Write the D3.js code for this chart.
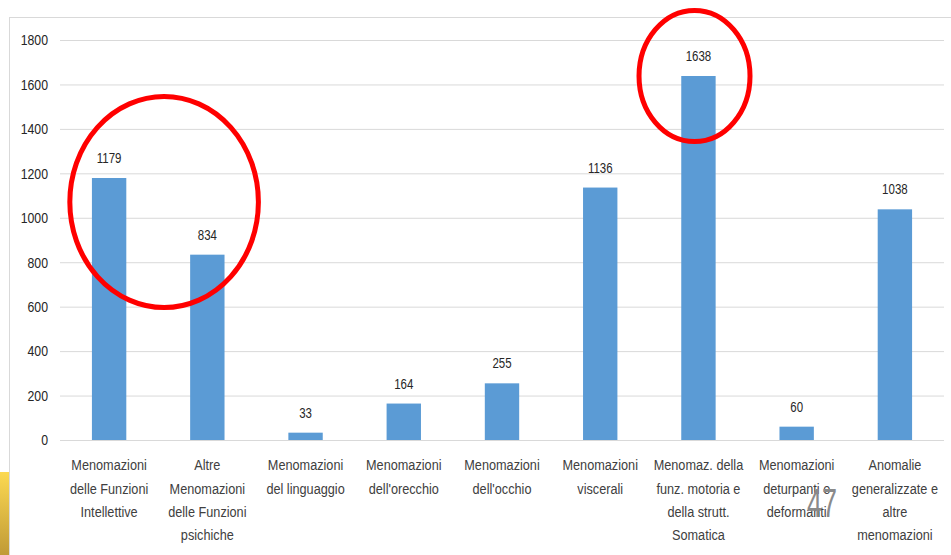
<!DOCTYPE html>
<html>
<head>
<meta charset="utf-8">
<script src="https://cdn.jsdelivr.net/npm/d3@7"></script>
<style>
  html, body { margin: 0; padding: 0; background: #ffffff; }
  svg { display: block; }
  text { font-family: "Liberation Sans", Arial, sans-serif; }
</style>
</head>
<body>
<svg id="chart" width="951" height="555"></svg>
<script>
// Category labels, one entry per line of the wrapped label
const categories = [
  ["Menomazioni", "delle Funzioni", "Intellettive"],
  ["Altre", "Menomazioni", "delle Funzioni", "psichiche"],
  ["Menomazioni", "del linguaggio"],
  ["Menomazioni", "dell'orecchio"],
  ["Menomazioni", "dell'occhio"],
  ["Menomazioni", "viscerali"],
  ["Menomaz. della", "funz. motoria e", "della strutt.", "Somatica"],
  ["Menomazioni", "deturpanti e", "deformanti"],
  ["Anomalie", "generalizzate e", "altre", "menomazioni"]
];
const values = [1179, 834, 33, 164, 255, 1136, 1638, 60, 1038];
const yTicks = [0, 200, 400, 600, 800, 1000, 1200, 1400, 1600, 1800];

// Highlight rings: centred on a category position and a value, sized in data units
const highlights = [
  { from: 0, to: 1, shift: 0.06, value: 1071, span: 475, halfWidth: 0.96 },
  { from: 6, to: 6, shift: -0.04, value: 1638, span: 295, halfWidth: 0.565 }
];

// Horizontal squeeze that gives Liberation Sans a narrow, condensed look
const NARROW = 0.82;

const svg = d3.select("#chart");
const W = 951, H = 555;
const m = { left: 60, right: 7, top: 40, bottom: 115 };

const keys = categories.map((c, i) => "c" + i);
const x = d3.scaleBand().domain(keys).range([m.left, W - m.right]).paddingInner(0.65).paddingOuter(0.325);
const y = d3.scaleLinear().domain([0, 1800]).range([H - m.bottom, m.top]);
const step = x.step();

// Corner accent
const grad = svg.append("defs").append("linearGradient")
  .attr("id", "gold").attr("x1", 0).attr("y1", 0).attr("x2", 0).attr("y2", 1);
grad.append("stop").attr("offset", "0%").attr("stop-color", "#fcd951");
grad.append("stop").attr("offset", "100%").attr("stop-color", "#c09a36");
svg.append("rect").attr("x", 0).attr("y", 472).attr("width", 9).attr("height", H - 472)
  .attr("fill", "url(#gold)");

// Chart frame
svg.append("rect").attr("x", 9.5).attr("y", 17.5).attr("width", W + 10).attr("height", H + 10)
  .attr("fill", "none").attr("stroke", "#d9d9d9").attr("stroke-width", 1);

// Gridlines and value axis
const yAxis = d3.axisLeft(y).tickValues(yTicks).tickFormat(d3.format("d"))
  .tickSize(-(W - m.left - m.right)).tickPadding(12);
const gy = svg.append("g").attr("transform", `translate(${m.left},0)`).call(yAxis);
gy.select(".domain").remove();
gy.selectAll(".tick line").attr("stroke", "#d9d9d9").attr("stroke-width", 1);
gy.selectAll(".tick text")
  .attr("fill", "#262626").attr("font-size", 15)
  .attr("font-family", "'Liberation Sans', Arial, sans-serif")
  .attr("x", -12 / NARROW)
  .attr("transform", `scale(${NARROW},1)`);

// Bars
svg.append("g").selectAll("rect").data(values).join("rect")
  .attr("x", (d, i) => x(keys[i]))
  .attr("y", d => y(d))
  .attr("width", x.bandwidth())
  .attr("height", d => y(0) - y(d))
  .attr("fill", "#5b9bd5");

// Value labels
svg.append("g").selectAll("text").data(values).join("text")
  .attr("transform", (d, i) => `translate(${x(keys[i]) + x.bandwidth() / 2},${y(d) - 15}) scale(${NARROW},1)`)
  .attr("text-anchor", "middle")
  .attr("font-size", 14)
  .attr("fill", "#262626")
  .text(d => d);

// Category labels
const xAxis = d3.axisBottom(x).tickSize(0).tickFormat("");
const gx = svg.append("g").attr("transform", `translate(0,${y(0)})`).call(xAxis);
gx.select(".domain").remove();
gx.selectAll(".tick").each(function(k, i) {
  const t = d3.select(this).append("text")
    .attr("transform", `scale(${NARROW},1)`)
    .attr("text-anchor", "middle").attr("fill", "#404040").attr("font-size", 15.5);
  categories[i].forEach((line, j) => {
    t.append("tspan").attr("x", 0).attr("y", 30.5 + j * 23.3).text(line);
  });
});

// Red highlight rings
svg.append("g").selectAll("ellipse").data(highlights).join("ellipse")
  .attr("cx", d => (x(keys[d.from]) + x(keys[d.to])) / 2 + x.bandwidth() / 2 + d.shift * step)
  .attr("cy", d => y(d.value))
  .attr("rx", d => d.halfWidth * step)
  .attr("ry", d => y(0) - y(d.span))
  .attr("fill", "none")
  .attr("stroke", "#ff0000")
  .attr("stroke-width", 5);

// Page number
svg.append("text")
  .attr("x", 807).attr("y", 517)
  .attr("font-size", 41)
  .attr("textLength", 30).attr("lengthAdjust", "spacingAndGlyphs")
  .attr("fill", "#8a8a8a")
  .text("47");
</script>
</body>
</html>
